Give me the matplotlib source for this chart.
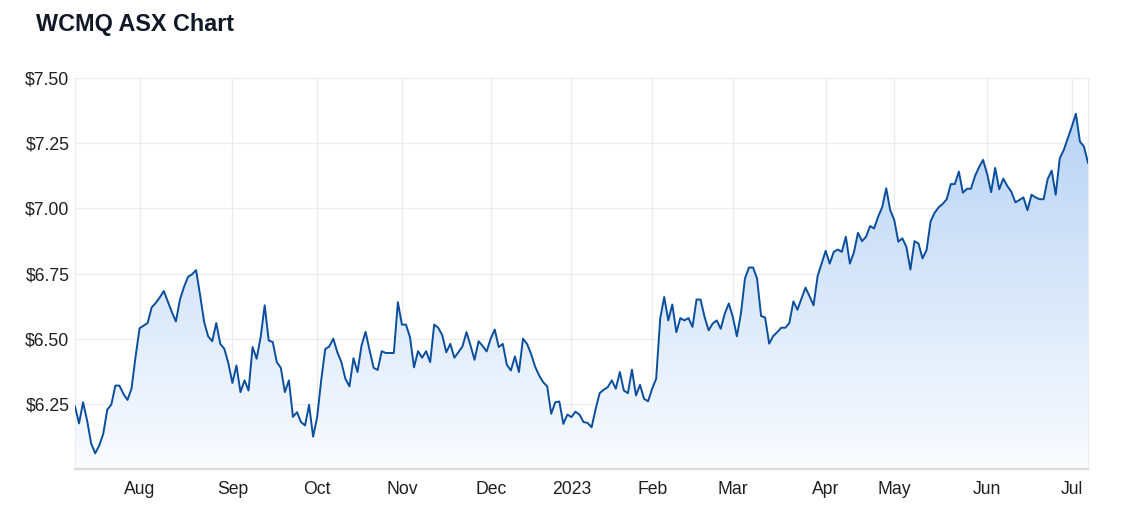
import numpy as np
import pandas as pd
import matplotlib
matplotlib.use("Agg")
import matplotlib.pyplot as plt
from matplotlib.colors import LinearSegmentedColormap

# ASX trading days, 8 Jul 2022 .. 7 Jul 2023
holidays = ["2022-09-22", "2022-12-26", "2022-12-27", "2023-01-02", "2023-01-26",
            "2023-04-07", "2023-04-10", "2023-04-25", "2023-06-12"]
dates = pd.bdate_range("2022-07-08", "2023-07-07", freq="C", holidays=holidays)

# closing price
jul_sep = [6.24, 6.175, 6.256, 6.186, 6.098, 6.06, 6.09, 6.135, 6.228, 6.247,
           6.32, 6.32, 6.288, 6.265, 6.308, 6.43, 6.54, 6.55, 6.56, 6.62,
           6.637, 6.658, 6.683, 6.643, 6.602, 6.566, 6.65, 6.698, 6.737, 6.747,
           6.763, 6.667, 6.564, 6.509, 6.49, 6.56, 6.48, 6.461, 6.406, 6.33,
           6.397, 6.295, 6.34, 6.301, 6.468, 6.423, 6.506, 6.628, 6.493, 6.487,
           6.41, 6.388, 6.295, 6.34, 6.20, 6.218, 6.18, 6.167, 6.246, 6.124]
oct_dec = [6.199, 6.34, 6.46, 6.47, 6.50, 6.448, 6.41, 6.346, 6.317, 6.425,
           6.372, 6.474, 6.526, 6.455, 6.388, 6.38, 6.452, 6.445, 6.445, 6.445,
           6.64, 6.554, 6.554, 6.506, 6.39, 6.452, 6.427, 6.452, 6.41, 6.554,
           6.542, 6.513, 6.448, 6.48, 6.427, 6.448, 6.47, 6.525, 6.474, 6.419,
           6.49, 6.472, 6.451, 6.50, 6.535, 6.468, 6.48, 6.40, 6.378, 6.432,
           6.372, 6.50, 6.48, 6.442, 6.393, 6.359, 6.333, 6.317, 6.212, 6.256,
           6.259, 6.173, 6.209]
jan_mar = [6.199, 6.22, 6.209, 6.18, 6.177, 6.16, 6.23, 6.291, 6.304, 6.314,
           6.34, 6.308, 6.372, 6.301, 6.291, 6.381, 6.282, 6.323, 6.269, 6.26,
           6.308, 6.346, 6.577, 6.66, 6.57, 6.631, 6.525, 6.579, 6.57, 6.579,
           6.545, 6.65, 6.65, 6.583, 6.532, 6.558, 6.57, 6.538, 6.596, 6.635,
           6.583, 6.509, 6.596, 6.731, 6.773, 6.773, 6.731, 6.587, 6.581, 6.481,
           6.51, 6.525, 6.542, 6.542, 6.56, 6.643, 6.611, 6.654, 6.696, 6.663,
           6.628, 6.74, 6.788]
apr_jul = [6.837, 6.788, 6.833, 6.842, 6.833, 6.891, 6.788, 6.831, 6.906, 6.874,
           6.891, 6.932, 6.923, 6.968, 7.004, 7.077, 6.993, 6.955, 6.872, 6.885,
           6.852, 6.765, 6.874, 6.865, 6.808, 6.84, 6.95, 6.983, 7.004, 7.017,
           7.035, 7.093, 7.093, 7.141, 7.06, 7.075, 7.075, 7.124, 7.158, 7.186,
           7.132, 7.062, 7.155, 7.073, 7.114, 7.086, 7.064, 7.023, 7.032, 7.042,
           6.993, 7.052, 7.042, 7.035, 7.035, 7.112, 7.145, 7.052, 7.192, 7.224,
           7.269, 7.314, 7.363, 7.256, 7.237, 7.175]
price = np.array(jul_sep + oct_dec + jan_mar + apr_jul)
x = np.arange(len(price))

y_ticks = [6.25, 6.50, 6.75, 7.00, 7.25, 7.50]
ymin, ymax = 6.0, 7.5

fig = plt.figure(figsize=(11.38, 5.22), dpi=100)
ax = fig.add_axes([75 / 1138, 1 - 469 / 522, (1088 - 75) / 1138, (469 - 78) / 522])

# gradient fill under the line
cmap = LinearSegmentedColormap.from_list("fill", ["#fafcff", "#b2cff3"])
grad = np.linspace(0, 1, 256).reshape(-1, 1)
img = ax.imshow(grad, cmap=cmap, aspect="auto", origin="lower",
                extent=[x[0], x[-1], ymin, ymax], zorder=1)
poly = ax.fill_between(x, price, ymin, color="none", lw=0)
img.set_clip_path(poly.get_paths()[0], transform=ax.transData)

ax.plot(x, price, color="#0a4e9e", lw=1.4, zorder=3)

# month ticks at first trading day of each month
month_start = [i for i in range(1, len(dates)) if dates[i].month != dates[i - 1].month]
month_labels = ["2023" if dates[i].month == 1 else dates[i].strftime("%b") for i in month_start]
ax.set_xticks(month_start)
ax.set_xticklabels(month_labels)
ax.set_yticks(y_ticks)
ax.set_yticklabels(["${:.2f}".format(v) for v in y_ticks])

ax.set_xlim(x[0], x[-1])
ax.set_ylim(ymin, ymax)
ax.grid(True, color="#ececec", lw=1, zorder=0)
ax.set_axisbelow(True)
ax.tick_params(length=0, labelsize=12.7, colors="#1f1f1f")
ax.tick_params(axis="x", pad=8.5)
ax.tick_params(axis="y", pad=4)
for lab in ax.get_xticklabels() + ax.get_yticklabels():
    lab.set_fontfamily("Liberation Sans")
ax.spines["top"].set_visible(False)
ax.spines["right"].set_color("#ececec")
ax.spines["left"].set_color("#ececec")
ax.spines["bottom"].set_color("#dcdcdc")
ax.spines["bottom"].set_linewidth(1.6)

fig.text(36 / 1138, 1 - 25 / 522, "WCMQ ASX Chart", fontsize=16.8, fontweight="bold",
         color="#111827", family="Liberation Sans", va="center", ha="left")

fig.savefig("out.png", dpi=100)
